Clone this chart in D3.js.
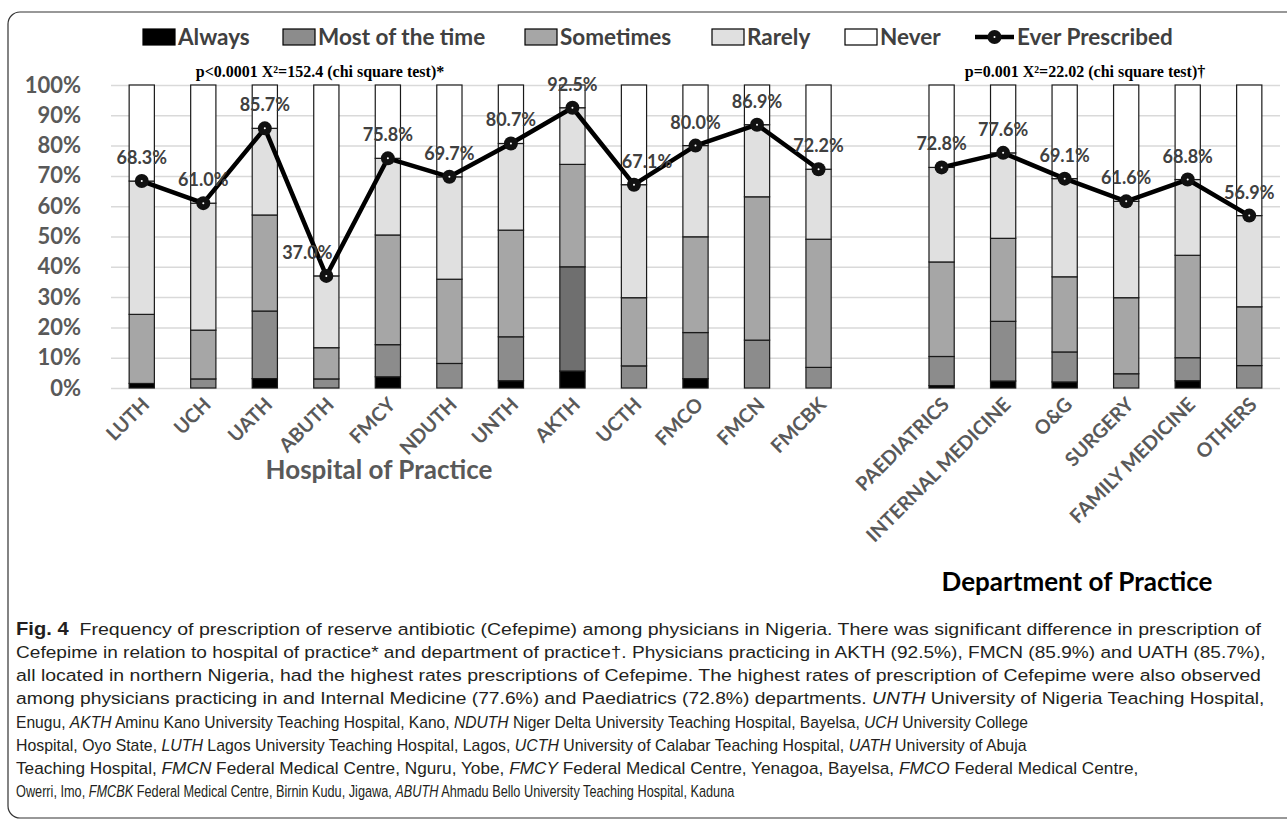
<!DOCTYPE html>
<html>
<head>
<meta charset="utf-8">
<script src="https://cdn.jsdelivr.net/npm/d3@7"></script>
<style>
  body { margin: 0; background: #fff; }
  text { white-space: pre; }
</style>
</head>
<body>
<div id="chart"></div>
<script>
// stacked categories
const seriesNames = ["Always", "Most of the time", "Sometimes", "Rarely", "Never"];

const hospitals = ["LUTH", "UCH", "UATH", "ABUTH", "FMCY", "NDUTH", "UNTH", "AKTH", "UCTH", "FMCO", "FMCN", "FMCBK"];
const hospAlways    = [1.5, 0,    3.1,  0,    3.7,  0,    2.4,  5.6,  0,    3.1,  0,    0];
const hospMost      = [0,   3.0,  22.3, 3.0,  10.6, 8.1,  14.5, 34.4, 7.3,  15.2, 15.8, 6.8];
const hospSometimes = [22.8, 16.1, 31.7, 10.3, 36.2, 27.8, 35.2, 33.8, 22.5, 31.6, 47.3, 42.3];
const hospRarely    = [44.0, 41.9, 28.6, 23.7, 25.3, 33.8, 28.6, 18.7, 37.3, 30.1, 23.8, 23.1];
const hospEver      = [68.3, 61.0, 85.7, 37.0, 75.8, 69.7, 80.7, 92.5, 67.1, 80.0, 86.9, 72.2];

const departments = ["PAEDIATRICS", "INTERNAL MEDICINE", "O&G", "SURGERY", "FAMILY MEDICINE", "OTHERS"];
const deptAlways    = [0.8, 2.3, 2.0, 0, 2.4, 0];
const deptMost      = [9.6, 19.7, 9.9, 4.7, 7.6, 7.4];
const deptSometimes = [31.2, 27.4, 24.8, 25.1, 33.8, 19.4];
const deptRarely    = [31.2, 28.2, 32.4, 31.8, 25.0, 30.1];
const deptEver      = [72.8, 77.6, 69.1, 61.6, 68.8, 56.9];

const yTicks = [0, 10, 20, 30, 40, 50, 60, 70, 80, 90, 100];

const pHospital = "p<0.0001 X\u00b2=152.4 (chi square test)*";
const pDepartment = "p=0.001 X\u00b2=22.02 (chi square test)\u2020";

const captionLines = [
  [["Fig. 4", "b"], ["  Frequency of prescription of reserve antibiotic (Cefepime) among physicians in Nigeria. There was significant difference in prescription of", ""]],
  [["Cefepime in relation to hospital of practice* and department of practice\u2020. Physicians practicing in AKTH (92.5%), FMCN (85.9%) and UATH (85.7%),", ""]],
  [["all located in northern Nigeria, had the highest rates prescriptions of Cefepime. The highest rates of prescription of Cefepime were also observed", ""]],
  [["among physicians practicing in and Internal Medicine (77.6%) and Paediatrics (72.8%) departments. ", ""], ["UNTH", "i"], [" University of Nigeria Teaching Hospital,", ""]],
  [["Enugu, ", ""], ["AKTH", "i"], [" Aminu Kano University Teaching Hospital, Kano, ", ""], ["NDUTH", "i"], [" Niger Delta University Teaching Hospital, Bayelsa, ", ""], ["UCH", "i"], [" University College", ""]],
  [["Hospital, Oyo State, ", ""], ["LUTH", "i"], [" Lagos University Teaching Hospital, Lagos, ", ""], ["UCTH", "i"], [" University of Calabar Teaching Hospital, ", ""], ["UATH", "i"], [" University of Abuja", ""]],
  [["Teaching Hospital, ", ""], ["FMCN", "i"], [" Federal Medical Centre, Nguru, Yobe, ", ""], ["FMCY", "i"], [" Federal Medical Centre, Yenagoa, Bayelsa, ", ""], ["FMCO", "i"], [" Federal Medical Centre,", ""]],
  [["Owerri, Imo, ", ""], ["FMCBK", "i"], [" Federal Medical Centre, Birnin Kudu, Jigawa, ", ""], ["ABUTH", "i"], [" Ahmadu Bello University Teaching Hospital, Kaduna", ""]]
];

// styles
const fills = {"Always": "#000000", "Most of the time": "#8c8c8c", "Sometimes": "#a6a6a6", "Rarely": "#e0e0e0", "Never": "#ffffff"};
const cellOverride = {"AKTH|Most of the time": "#6f6f6f"};
const labelShift = {"ABUTH": -19, "UCTH": 13};
const greyText = "#595959";

function makeRows(cats, a, m, s, r, e) {
  return cats.map((c, i) => ({
    cat: c, "Always": a[i], "Most of the time": m[i], "Sometimes": s[i],
    "Rarely": r[i], "Never": +(100 - e[i]).toFixed(1), ever: e[i]
  }));
}
const hospRows = makeRows(hospitals, hospAlways, hospMost, hospSometimes, hospRarely, hospEver);
const deptRows = makeRows(departments, deptAlways, deptMost, deptSometimes, deptRarely, deptEver);
const allRows = hospRows.concat(deptRows);

const width = 1287, height = 824;
const svg = d3.select("#chart").append("svg")
  .attr("width", width).attr("height", height)
  .style("font-family", "Lato, 'Open Sans', sans-serif");

// figure frame
svg.append("rect")
  .attr("x", 8).attr("y", 12).attr("width", 1320).attr("height", 806)
  .attr("rx", 12).attr("fill", "none").attr("stroke", "#333").attr("stroke-width", 1.2);

const plot = { left: 111, right: 1280, top: 85, bottom: 388 };

const x = d3.scaleBand()
  .domain([...hospitals, "__gap__", ...departments])
  .range([plot.left, plot.right])
  .paddingInner(0.59).paddingOuter(0.295);

const y = d3.scaleLinear().domain([0, 100]).range([plot.bottom, plot.top]);

// y axis with gridlines
const yAxis = svg.append("g")
  .attr("transform", `translate(${plot.left},0)`)
  .call(d3.axisLeft(y).tickValues(yTicks).tickFormat(d => d + "%")
    .tickSize(-(plot.right - plot.left)).tickPadding(30));
yAxis.select(".domain").remove();
yAxis.selectAll(".tick line").attr("stroke", "#d9d9d9").attr("stroke-width", 1.5);
yAxis.selectAll(".tick text")
  .attr("fill", greyText).attr("font-size", 22).attr("font-weight", "bold")
  .attr("font-family", "Lato, sans-serif");

// stacked bars
const stacked = d3.stack().keys(seriesNames)(allRows);
svg.append("g").selectAll("g")
  .data(stacked).join("g")
  .selectAll("rect")
  .data(d => d.map(v => Object.assign(v, { key: d.key })))
  .join("rect")
  .attr("x", d => x(d.data.cat))
  .attr("width", x.bandwidth())
  .attr("y", d => y(d[1]))
  .attr("height", d => y(d[0]) - y(d[1]))
  .attr("fill", d => cellOverride[d.data.cat + "|" + d.key] || fills[d.key])
  .attr("stroke", "#1a1a1a").attr("stroke-width", 1.2);

// x axis labels
const xAxis = svg.append("g")
  .attr("transform", `translate(0,${plot.bottom})`)
  .call(d3.axisBottom(x).tickSize(0).tickFormat(d => d === "__gap__" ? "" : d));
xAxis.select(".domain").remove();
xAxis.selectAll(".tick text")
  .attr("text-anchor", "end")
  .attr("transform", "translate(4,13) rotate(-45)")
  .attr("dy", "0.35em").attr("y", 0)
  .attr("fill", greyText).attr("font-size", 19.5).attr("font-weight", "bold")
  .attr("font-family", "Lato, sans-serif");

// ever prescribed line
const cx = d => x(d.cat) + x.bandwidth() / 2;
const line = d3.line().x(cx).y(d => y(d.ever));
[hospRows, deptRows].forEach(rows => {
  svg.append("path").datum(rows)
    .attr("d", line).attr("fill", "none")
    .attr("stroke", "#000").attr("stroke-width", 4.5).attr("stroke-linejoin", "round");
});
const markers = svg.append("g").selectAll("g").data(allRows).join("g")
  .attr("transform", d => `translate(${cx(d)},${y(d.ever)})`);
markers.append("circle").attr("r", 7).attr("fill", "#111");
markers.append("circle").attr("r", 1).attr("fill", "#fff");

svg.append("g").selectAll("text").data(allRows).join("text")
  .attr("x", d => cx(d) + (labelShift[d.cat] || 0))
  .attr("y", d => y(d.ever) - 17)
  .attr("text-anchor", "middle")
  .attr("font-size", 18).attr("font-weight", "bold").attr("fill", "#404040")
  .text(d => d.ever.toFixed(1) + "%");

// p values
svg.append("text").attr("x", 320).attr("y", 77).attr("text-anchor", "middle")
  .attr("font-family", "'Liberation Serif', 'Times New Roman', serif")
  .attr("font-weight", "bold").attr("font-size", 16).text(pHospital);
svg.append("text").attr("x", 1085).attr("y", 77).attr("text-anchor", "middle")
  .attr("font-family", "'Liberation Serif', 'Times New Roman', serif")
  .attr("font-weight", "bold").attr("font-size", 16).text(pDepartment);

// axis titles
svg.append("text").attr("x", 379).attr("y", 479).attr("text-anchor", "middle")
  .attr("font-size", 26).attr("font-weight", "bold").attr("fill", greyText)
  .text("Hospital of Practice");
svg.append("text").attr("x", 1077).attr("y", 591).attr("text-anchor", "middle")
  .attr("font-size", 26).attr("font-weight", "bold").attr("fill", "#000")
  .text("Department of Practice");

// legend
const legendX = [143, 283, 525, 712, 845];
const legend = svg.append("g");
seriesNames.forEach((s, i) => {
  legend.append("rect").attr("x", legendX[i]).attr("y", 29).attr("width", 32).attr("height", 16)
    .attr("fill", fills[s]).attr("stroke", "#000").attr("stroke-width", 1.2);
  legend.append("text").attr("x", legendX[i] + 35).attr("y", 45)
    .attr("font-size", 22.5).attr("font-weight", "bold").attr("fill", "#404040").text(s);
});
legend.append("line").attr("x1", 975).attr("x2", 1014).attr("y1", 37).attr("y2", 37)
  .attr("stroke", "#000").attr("stroke-width", 4.5);
legend.append("circle").attr("cx", 994.5).attr("cy", 37).attr("r", 7).attr("fill", "#111");
legend.append("circle").attr("cx", 994.5).attr("cy", 37).attr("r", 1).attr("fill", "#fff");
legend.append("text").attr("x", 1017).attr("y", 45)
  .attr("font-size", 22.5).attr("font-weight", "bold").attr("fill", "#404040").text("Ever Prescribed");

// caption, each line fitted to where it ends in the figure
const capBase = [635, 658, 681, 704, 728, 751, 774, 797];
const capEnd = [1262, 1266, 1262, 1266, 1029, 1027, 1139, 735];
captionLines.forEach((segs, i) => {
  const g = svg.append("g");
  const t = g.append("text").attr("font-size", 17).attr("fill", "#231f20")
    .attr("font-family", "'Liberation Sans', sans-serif");
  segs.forEach(([txt, st]) => {
    t.append("tspan").text(txt)
      .attr("font-style", st === "i" ? "italic" : null)
      .attr("font-weight", st === "b" ? "bold" : null)
      .attr("font-size", st === "b" ? 17.5 : null);
  });
  const w = t.node().getComputedTextLength();
  g.attr("transform", `translate(16,${capBase[i]}) scale(${(capEnd[i] - 16) / w},1)`);
});
</script>
</body>
</html>
